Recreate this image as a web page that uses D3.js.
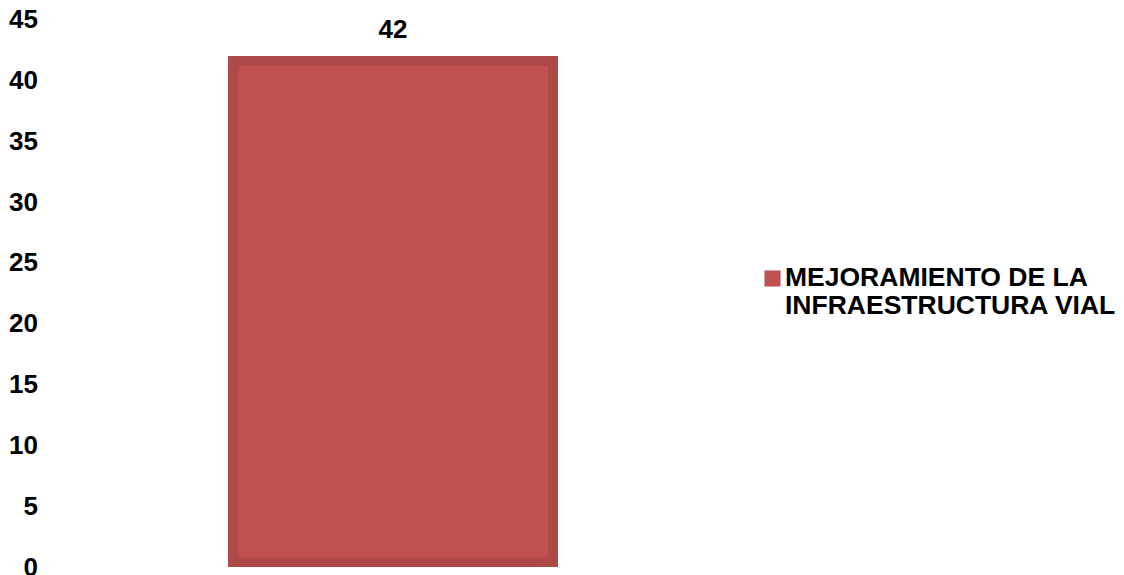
<!DOCTYPE html>
<html><head><meta charset="utf-8">
<script src="https://cdn.jsdelivr.net/npm/d3@7"></script>
<style>
html,body{margin:0;padding:0;background:#fff;}
svg{display:block;font-family:"Liberation Sans",Arial,sans-serif;}
</style></head>
<body>
<svg id="chart" width="1124" height="575"></svg>
<script>
const categories = ["MEJORAMIENTO DE LA INFRAESTRUCTURA VIAL"];
const values = [42];
const seriesName = ["MEJORAMIENTO DE LA", "INFRAESTRUCTURA VIAL"];
const yTicks = [0, 5, 10, 15, 20, 25, 30, 35, 40, 45];

const FS = 26;
const svg = d3.select("#chart");
const y = d3.scaleLinear().domain([0, 45]).range([567, 19.5]);
const x = d3.scaleBand().domain(categories).range([63, 723]).paddingInner(0.5).paddingOuter(0.25);

// y axis labels
const yAxis = d3.axisLeft(y).tickValues(yTicks).tickSize(0).tickPadding(0);
const gy = svg.append("g").attr("transform", "translate(38,0)").call(yAxis);
gy.select(".domain").remove();
gy.selectAll("text").attr("font-size", FS).attr("font-weight", "bold")
  .attr("fill", "#000").attr("font-family", "'Liberation Sans',Arial,sans-serif")
  .attr("dy", "0.31em");

// bars
const bars = svg.append("g").selectAll("g").data(values).join("g");
bars.append("rect")
  .attr("x", (d, i) => x(categories[i]))
  .attr("y", d => y(d))
  .attr("width", x.bandwidth())
  .attr("height", d => y(0) - y(d))
  .attr("fill", "#ad4a47");
bars.append("rect")
  .attr("x", (d, i) => x(categories[i]) + 10)
  .attr("y", d => y(d) + 10)
  .attr("width", x.bandwidth() - 20)
  .attr("height", d => y(0) - y(d) - 20)
  .attr("fill", "#c0504d");
bars.append("text")
  .attr("x", (d, i) => x(categories[i]) + x.bandwidth() / 2)
  .attr("y", d => y(d) - 18)
  .attr("text-anchor", "middle")
  .attr("font-size", FS).attr("font-weight", "bold").attr("fill", "#000")
  .text(d => d);

// legend
const lg = svg.append("g");
lg.append("rect").attr("x", 765).attr("y", 271).attr("width", 15).attr("height", 15)
  .attr("fill", "#c0504d").attr("stroke", "#b44d4a").attr("stroke-width", 1);
lg.selectAll("text.leg").data(seriesName).join("text")
  .attr("class", "leg")
  .attr("x", 785)
  .attr("y", (d, i) => 286 + i * 28)
  .attr("font-size", 26.5).attr("font-weight", "bold").attr("fill", "#000")
  .text(d => d);
</script>
</body></html>
